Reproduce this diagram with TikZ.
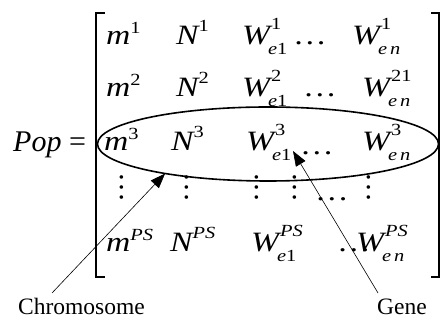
\documentclass[tikz,border=0pt]{standalone}
\usepackage{amsmath}
\usepackage{fontspec}
\setmainfont{Liberation Serif}
\newfontfamily\matfont{Liberation Serif}[FakeStretch=1.2]
\usepackage{tikz}
\usetikzlibrary{
	arrows.meta,
	shapes.geometric
}
\DeclareMathSizes{28}{28}{17}{13}
% 矩阵元素：字母、上标、下标
\newcommand{\scr}[2]{\raisebox{#1}{$\scriptstyle\textup{#2}$}}
\newcommand{\mel}[3]{$\textit{#1}^{\kern1pt\scr{4pt}{#2}}_{\kern-2pt\scr{-3pt}{#3}}$}
\newcommand{\msup}[2]{$\textit{#1}^{\scr{2pt}{#2}}$}
\newcommand{\eone}{\textit{e}1}
\newcommand{\enn}{\textit{e}\,\textit{n}}

\begin{document}
\begin{tikzpicture}[x=1pt, y=1pt,
	popst/.style={anchor=base west, inner sep=0pt, font=\fontsize{30}{36}\selectfont},
	elem/.style={anchor=base west, inner sep=0pt, font=\matfont\fontsize{28}{34}\selectfont},
	vdts/.style={anchor=base, rotate=-90, inner sep=0pt, font=\fontsize{30}{36}\selectfont},
	lbl/.style={anchor=base west, inner sep=0pt, font=\fontsize{23.5}{28}\selectfont},
	ptr/.style={-{Triangle[length=15pt, width=11pt]}, line width=0.6pt}]
	\useasboundingbox (0,0) rectangle (441,331);
	
	% 左边
	\node[popst] (pop) at (13,179) {\textit{Pop} =};
	
	% 方括号
	\draw[line width=1.3pt] (105,318) -- (96,318) -- (96,54) -- (105,54);
	\draw[line width=1.3pt] (431,318) -- (439,318) -- (439,54) -- (431,54);
	
	% 第一行
	\node[elem] (r1c1) at (106,286) {\msup{m}{1}};
	\node[elem] (r1c2) at (176,286) {\msup{N}{1}};
	\node[elem] (r1c3) at (242,286) {\mel{W}{1}{\eone}};
	\node[elem] (r1d)  at (293,286) {…};
	\node[elem] (r1c4) at (352,286) {\mel{W}{1}{\enn}};
	
	% 第二行
	\node[elem] (r2c1) at (106,234) {\msup{m}{2}};
	\node[elem] (r2c2) at (176,234) {\msup{N}{2}};
	\node[elem] (r2c3) at (242,234) {\mel{W}{2}{\eone}};
	\node[elem] (r2d)  at (303,234) {…};
	\node[elem] (r2c4) at (362,234) {\mel{W}{21}{\enn}};
	
	% 第三行（染色体）
	\node[elem] (r3c1) at (104,180) {\msup{m}{3}};
	\node[elem] (r3c2) at (171,180) {\msup{N}{3}};
	\node[elem] (r3c3) at (246,180) {\mel{W}{3}{\eone}};
	\node[elem] (r3d)  at (300,176) {…};
	\node[elem] (r3c4) at (362,180) {\mel{W}{3}{\enn}};
	
	% 省略号
	\foreach \x/\n in {120/1, 185/2, 255/3, 293/4, 367/5}
		\node[vdts] (vd\n) at (\x,143) {…};
	\node[elem] (hd) at (315,130) {…};
	
	% 最后一行
	\node[elem] (rpc1) at (106,79) {\msup{m}{\textit{PS}}};
	\node[elem] (rpc2) at (170,79) {\msup{N}{\textit{PS}}};
	\node[elem] (rpc3) at (251,79) {\mel{W}{\textit{PS}}{\eone}};
	\node[elem] (rpd)  at (337,79) {…};
	\node[elem] (rpc4) at (356,79) {\mel{W}{\textit{PS}}{\enn}};
	
	% 椭圆
	\node[draw, ellipse, line width=1.6pt, inner sep=0pt, outer sep=0pt,
		minimum width=341pt, minimum height=74pt] (chrom) at (268,187) {};
	
	% 标注
	\node[lbl] (chromlbl) at (18,16) {Chromosome};
	\node[lbl] (genelbl) at (377,16) {Gene};
	\coordinate (ctail) at (52,38);
	\coordinate (gtail) at (378,38);
	\coordinate (gtip) at (293,180);
	\draw[ptr] (ctail) -- (chrom.196);
	\draw[ptr] (gtail) -- (gtip);
\end{tikzpicture}
\end{document}
